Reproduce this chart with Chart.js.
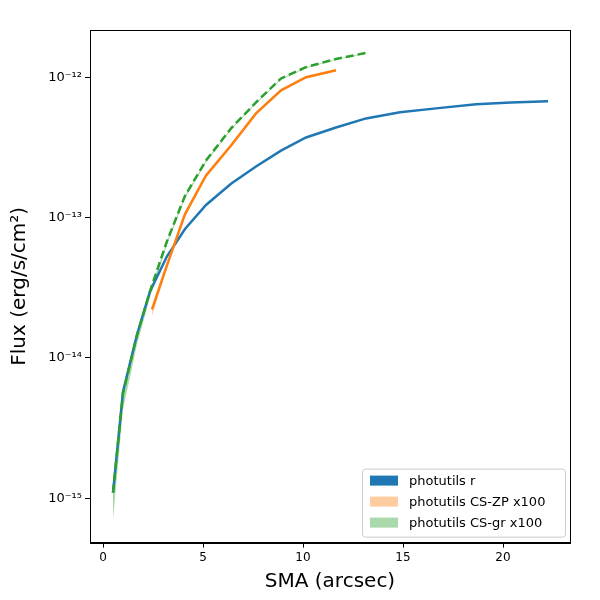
<!DOCTYPE html>
<html>
<head>
<meta charset="utf-8">
<script src="https://cdn.jsdelivr.net/npm/chart.js@4.4.0/dist/chart.umd.min.js"></script>
<style>
  html, body { margin: 0; padding: 0; background: #fff; }
  #wrap { width: 600px; height: 600px; }
</style>
</head>
<body>
<div id="wrap"><canvas id="c" width="600" height="600"></canvas></div>
<script>
// ── Data ────────────────────────────────────────────────────────────────────
const smaR = [0.5, 1.0, 1.7, 2.35, 3.2, 4.1, 5.15, 6.4, 7.65, 8.9, 10.15, 11.65, 13.15, 14.85, 16.65, 18.65, 20.4, 22.25];
const fluxR = [1.1e-15, 5.75e-15, 1.47e-14, 2.98e-14, 5.3e-14, 8.3e-14, 1.23e-13, 1.74e-13, 2.31e-13, 3.0e-13, 3.72e-13, 4.38e-13, 5.09e-13, 5.62e-13, 6.0e-13, 6.41e-13, 6.62e-13, 6.73e-13];

const smaZP = [2.45, 3.1, 4.1, 5.15, 6.4, 7.65, 8.9, 10.15, 11.65];
const fluxZP = [2.22e-14, 4.17e-14, 1.06e-13, 2.0e-13, 3.26e-13, 5.52e-13, 8.07e-13, 1.0e-12, 1.12e-12];
const fluxZPlo = [2.0e-14, 3.9e-14, 1.01e-13, 1.92e-13, 3.16e-13, 5.38e-13, 7.9e-13, 0.98e-12, 1.1e-12];

const smaGR = [0.5, 1.0, 1.7, 2.35, 3.2, 4.1, 5.15, 6.4, 7.65, 8.9, 10.15, 11.65, 13.15];
const fluxGR = [1.1e-15, 5.6e-15, 1.45e-14, 3.0e-14, 6.8e-14, 1.43e-13, 2.55e-13, 4.32e-13, 6.62e-13, 9.8e-13, 1.18e-12, 1.35e-12, 1.49e-12];
const fluxGRlo = [7.0e-16, 4.3e-15, 1.25e-14, 2.7e-14, 6.4e-14, 1.37e-13, 2.47e-13, 4.2e-13, 6.48e-13, 9.6e-13, 1.16e-12, 1.33e-12, 1.47e-12];

const xTicks = [0, 5, 10, 15, 20];
const yTicks = [1e-15, 1e-14, 1e-13, 1e-12];
const yTickLabels = ["10⁻¹⁵", "10⁻¹⁴", "10⁻¹³", "10⁻¹²"];
const legendLabels = ["photutils r", "photutils CS-ZP x100", "photutils CS-gr x100"];

const BLUE = "#1f77b4", ORANGE = "#ff7f0e", GREEN = "#2ca02c";
const pts = (xs, ys) => xs.map((x, i) => ({ x, y: ys[i] }));

// ── Frame + matplotlib-like legend drawn inside the plot ───────────────────
const mplLegend = {
  id: "mplLegend",
  afterDraw(chart) {
    const ctx = chart.ctx;
    const a = chart.chartArea;
    ctx.save();
    ctx.strokeStyle = "#000";
    ctx.lineWidth = 1;
    ctx.strokeRect(Math.round(a.left) + 0.5, Math.round(a.top) + 0.5, Math.round(a.right - a.left), Math.round(a.bottom - a.top));

    const w = 203, h = 68;
    const x0 = a.right - w - 5, y0 = a.bottom - h - 6;
    ctx.fillStyle = "rgba(255,255,255,0.8)";
    ctx.strokeStyle = "#cccccc";
    ctx.beginPath();
    ctx.roundRect(x0 + 0.5, y0 + 0.5, w, h, 3);
    ctx.fill();
    ctx.stroke();
    const fills = [BLUE, "rgba(255,127,14,0.4)", "rgba(44,160,44,0.4)"];
    ctx.font = "13px 'DejaVu Sans'";
    ctx.textBaseline = "middle";
    legendLabels.forEach((t, i) => {
      const yy = y0 + 12 + i * 21;
      ctx.fillStyle = fills[i];
      ctx.fillRect(x0 + 8, yy - 5, 28, 10);
      ctx.fillStyle = "#000";
      ctx.fillText(t, x0 + 47, yy + 1);
    });
    ctx.restore();
  },
};

// ── Chart ───────────────────────────────────────────────────────────────────
new Chart(document.getElementById("c"), {
  type: "line",
  data: {
    datasets: [
      { data: pts(smaGR, fluxGRlo), borderWidth: 0, pointRadius: 0, fill: false, order: 10 },
      { data: pts(smaGR, fluxGR), borderWidth: 0, pointRadius: 0, fill: "-1", backgroundColor: "rgba(44,160,44,0.4)", order: 10 },
      { data: pts(smaZP, fluxZPlo), borderWidth: 0, pointRadius: 0, fill: false, order: 10 },
      { data: pts(smaZP, fluxZP), borderWidth: 0, pointRadius: 0, fill: "-1", backgroundColor: "rgba(255,127,14,0.4)", order: 10 },
      { label: legendLabels[0], data: pts(smaR, fluxR), borderColor: BLUE, borderWidth: 2.5, pointRadius: 0, fill: false, order: 3 },
      { label: legendLabels[1], data: pts(smaZP, fluxZP), borderColor: ORANGE, borderWidth: 2.5, pointRadius: 0, fill: false, order: 2 },
      { label: legendLabels[2], data: pts(smaGR, fluxGR), borderColor: GREEN, borderWidth: 2.5, borderDash: [8, 4], pointRadius: 0, fill: false, order: 1 },
    ],
  },
  options: {
    responsive: false,
    animation: false,
    devicePixelRatio: 1,
    layout: { padding: { top: 30, right: 30, left: 6, bottom: 0 } },
    plugins: { legend: { display: false }, tooltip: { enabled: false } },
    scales: {
      x: {
        type: "linear",
        min: -0.65,
        max: 23.35,
        afterBuildTicks(s) { s.ticks = xTicks.map(v => ({ value: v })); },
        grid: { drawOnChartArea: false, color: "#000", tickLength: 5 },
        border: { color: "#000", width: 1 },
        ticks: { color: "#000", font: { size: 12, family: "DejaVu Sans" } },
        title: { display: true, text: "SMA (arcsec)", color: "#000", font: { size: 20, family: "DejaVu Sans" }, padding: { top: 2, bottom: 6 } },
      },
      y: {
        type: "logarithmic",
        min: 4.84e-16,
        max: 2.17e-12,
        afterBuildTicks(s) { s.ticks = yTicks.map(v => ({ value: v })); },
        afterFit(s) { s.width = 84; },
        grid: { drawOnChartArea: false, color: "#000", tickLength: 5 },
        border: { color: "#000", width: 1 },
        ticks: {
          color: "#000",
          font: { size: 13, family: "DejaVu Sans" },
          callback(v) { const i = yTicks.indexOf(v); return i >= 0 ? yTickLabels[i] : ""; },
        },
        title: { display: true, text: "Flux (erg/s/cm²)", color: "#000", font: { size: 20, family: "DejaVu Sans" }, padding: 2 },
      },
    },
  },
  plugins: [mplLegend],
});
</script>
</body>
</html>
